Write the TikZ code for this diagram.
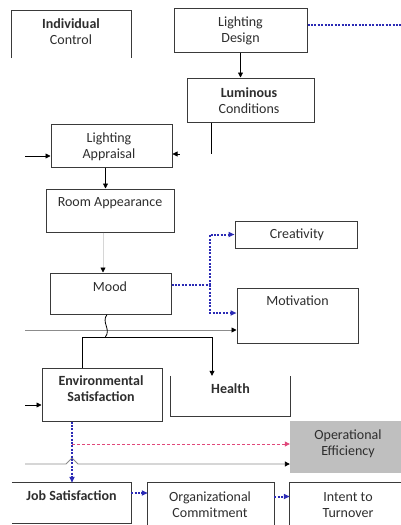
\documentclass[tikz,border=0pt]{standalone}
\usepackage{fontspec}
\setmainfont{Carlito}
\usetikzlibrary{arrows.meta, calc}
\definecolor{lnblue}{HTML}{2B2BB5}
\definecolor{dshred}{HTML}{E0477A}
\definecolor{effgray}{HTML}{BFBFBF}
\definecolor{lngray}{HTML}{8C8C8C}
\definecolor{bxline}{HTML}{3A3A3A}
\definecolor{faint}{HTML}{D6D6D6}
\definecolor{txtgray}{HTML}{2E2E2E}

\begin{document}
\begin{tikzpicture}[
  x=1pt, y=-1pt,
  >={Triangle[length=5pt, width=5pt]},
  box/.style 2 args={
    draw=bxline, line width=1pt,
    minimum width=#1, minimum height=#2, inner sep=0pt},
  openbox/.style 2 args={
    minimum width=#1, minimum height=#2, inner sep=0pt},
  side/.style={bxline, line width=1pt},
  txt/.style={font=\fontsize{14}{16}\selectfont, text=txtgray,
    align=center, inner sep=0pt},
  txtb/.style={txt, font=\fontsize{14}{16}\selectfont\bfseries},
  wire/.style={line width=0.8pt, black},
  graywire/.style={line width=0.9pt, lngray, >={Triangle[length=5pt, width=5pt, color=black]}},
  bluedot/.style={line width=2pt, lnblue, dash pattern=on 2pt off 1.4pt,
    >={Triangle[length=6pt, width=5pt]}},
  reddash/.style={line width=0.8pt, dshred, dash pattern=on 3pt off 2pt},
]

% Canvas
\useasboundingbox (0,0) rectangle (401,525);
\fill[white] (0,0) rectangle (401,525);

% === Top row ===
\node[openbox={119pt}{47pt}] (indiv) at (71.5,34.5) {};
\draw[side] (indiv.south west) -- (indiv.north west) -- (indiv.north east) -- (indiv.south east);
\node[txt] (indivT) at (71,32) {\textbf{Individual}\\Control};

\node[box={133pt}{44pt}] (design) at (240.5,30) {};
\node[txt] (designT) at (240.5,31) {Lighting\\Design};

\node[box={127pt}{44pt}] (lumin) at (250.5,100) {};
\node[txt] (luminT) at (249,100.5) {\textbf{Luminous}\\Conditions};

% === Appraisal chain ===
\node[box={121pt}{43pt}] (apprais) at (111.5,145.5) {};
\node[txt] (appraisT) at (109,146.5) {Lighting\\Appraisal};

\node[box={128pt}{43pt}] (room) at (110,210.5) {};
\node[txt] (roomT) at (110,203) {Room Appearance};

\node[box={121pt}{41pt}] (mood) at (110.5,293.5) {};
\node[txt] (moodT) at (110,287) {Mood};

% === Outcomes of mood ===
\node[box={122pt}{27pt}] (creat) at (296,234.5) {};
\node[txt] (creatT) at (297,235) {Creativity};

\node[box={121pt}{55pt}] (motiv) at (297.5,315.5) {};
\node[txt] (motivT) at (297.5,301) {Motivation};

\node[box={120pt}{53pt}] (envsat) at (102,394.5) {};
\node[txtb] (envsatT) at (101,388.5) {Environmental\\Satisfaction};

\node[openbox={119pt}{40pt}] (health) at (230.5,396) {};
\draw[side] (health.north west) -- (health.south west) -- (health.south east) -- (health.north east);
\node[txtb] (healthT) at (230.5,389) {Health};

\node[openbox={115pt}{52pt}, fill=effgray] (opeff) at (347.5,447) {};
\node[txt] (opeffT) at (348,443.5) {Operational\\Efficiency};

% === Bottom row ===
\node[openbox={119pt}{40pt}] (jobsat) at (71.5,503) {};
\draw[side] (jobsat.north west) -- (jobsat.north east) -- (jobsat.south east) -- (jobsat.south west);
\node[txtb] (jobsatT) at (71.5,496) {Job Satisfaction};

\node[openbox={126pt}{47pt}] (orgcom) at (211,506.5) {};
\draw[side] (orgcom.south west) -- (orgcom.north west) -- (orgcom.north east) -- (orgcom.south east);
\node[txt] (orgcomT) at (210,505) {Organizational\\Commitment};

\node[openbox={115pt}{47pt}] (intent) at (347.5,506.5) {};
\draw[side] (intent.south west) -- (intent.north west) -- (intent.north east);
\node[txt] (intentT) at (348,505) {Intent to\\Turnover};

% ============================================================
% Connectors
% ============================================================
\coordinate (inA) at (25,156);
\coordinate (split) at (210,285);
\coordinate (inM) at (25,330);
\coordinate (brL) at (82,337);
\coordinate (brR) at (212,337);
\coordinate (inE) at (25,405);
\coordinate (tap) at (72,444);
\coordinate (inO) at (25,464);

\draw[->, wire] (design.south) -- (design.south |- lumin.north);
\draw[bluedot] ([yshift=5pt]design.east) -- ++(100,0);
\draw[wire] ([xshift=-39.5pt]lumin.south) -- ++(0,31);

\draw[->, wire] (inA) -- (inA -| apprais.west);
\draw[->, wire] ([shift={(7pt,-8.5pt)}]apprais.east) -- ([yshift=-8.5pt]apprais.east);
\draw[->, wire] ([xshift=-6pt]apprais.south) -- ([xshift=-6pt]apprais.south |- room.north);
\draw[line width=0.8pt, faint, -{Triangle[length=5pt, width=5pt, color=black]}]
  ([xshift=-7pt]room.south) -- ([xshift=-7pt]room.south |- mood.north);

% mood -> creativity, motivation
\draw[bluedot] ([yshift=8.5pt]mood.east) -- (split);
\draw[bluedot, ->] (split) |- (creat.west);
\draw[bluedot, ->] (split) |- ([yshift=2.5pt]motiv.west);
\draw[->, graywire] (inM) -- (inM -| motiv.west);

% mood -> environmental satisfaction, health
\draw[wire] ([xshift=-3.5pt]mood.south) .. controls +(-6,8) and +(6,-8) .. ($(brL)!0.18!(brR)$);
\draw[wire] (envsat.north -| brL) -- (brL) -- (brR);
\draw[->, wire] (brR) -- (brR |- health.north);
\draw[->, wire] (inE) -- (inE -| envsat.west);

% environmental satisfaction -> job satisfaction, efficiency
\draw[->, graywire] (inO) -- ++(41,0) -- ++(6,-6) -- ++(6,6) -- (inO -| opeff.west);
\draw[->, reddash] (tap) -- (tap -| opeff.west);
\draw[->, bluedot] ([xshift=-30pt]envsat.south) -- ([xshift=-30pt]envsat.south |- jobsat.north);

\draw[->, bluedot] ([yshift=10pt]jobsat.east) -- ([yshift=10pt]jobsat.east -| orgcom.west);
\draw[->, bluedot] ([yshift=10pt]orgcom.east) -- ([yshift=10pt]orgcom.east -| intent.west);

\end{tikzpicture}
\end{document}
